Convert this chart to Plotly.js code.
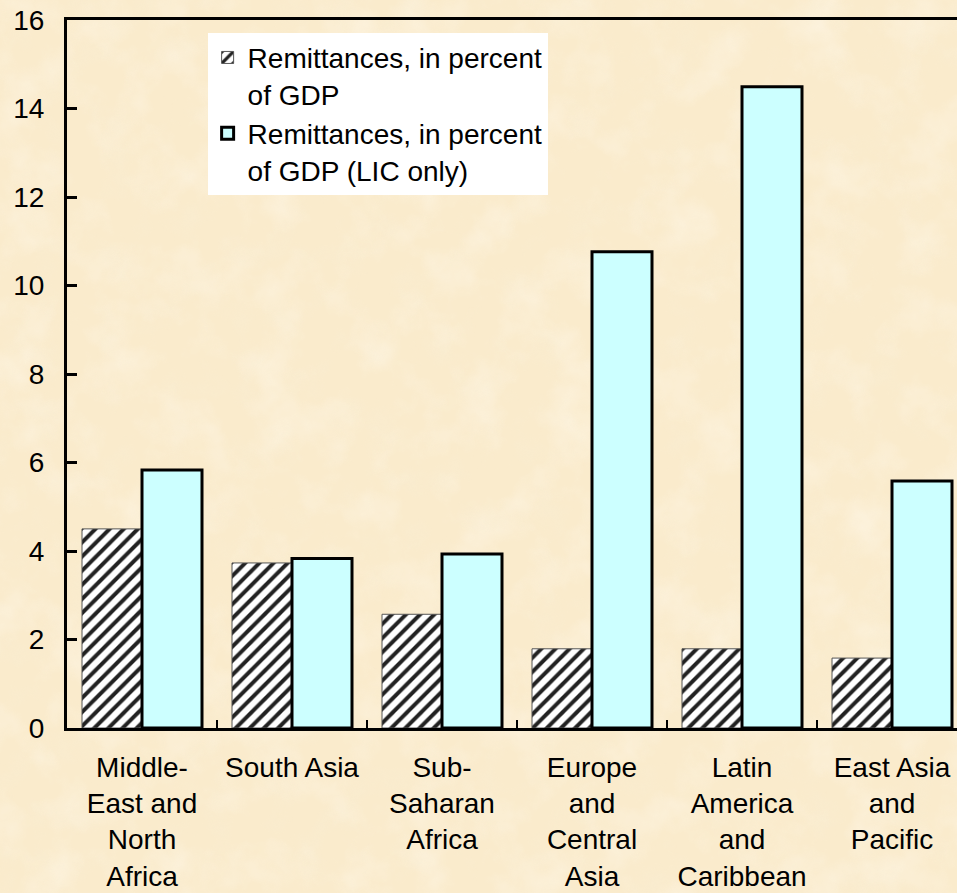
<!DOCTYPE html>
<html>
<head>
<meta charset="utf-8">
<script src="https://cdn.plot.ly/plotly-3.0.1.min.js"></script>
<style>
  html, body { margin: 0; padding: 0; width: 957px; height: 893px; overflow: hidden; background: #FAEBCD; }
  #bg { position: absolute; left: 0; top: 0; z-index: 0; }
  #chart { position: absolute; left: 0; top: 0; width: 957px; height: 893px; z-index: 1; }
</style>
</head>
<body>
<svg id="bg" width="957" height="893" xmlns="http://www.w3.org/2000/svg">
  <filter id="light" x="0" y="0" width="100%" height="100%">
    <feTurbulence type="fractalNoise" baseFrequency="0.02" numOctaves="4" seed="7"/>
    <feColorMatrix values="0 0 0 0 1  0 0 0 0 0.96  0 0 0 0 0.88  2.0 0 0 0 -0.9"/>
  </filter>
  <filter id="dark" x="0" y="0" width="100%" height="100%">
    <feTurbulence type="fractalNoise" baseFrequency="0.03" numOctaves="3" seed="19"/>
    <feColorMatrix values="0 0 0 0 0.94  0 0 0 0 0.86  0 0 0 0 0.68  0 2.0 0 0 -1.0"/>
  </filter>
  <rect width="957" height="893" fill="#FAEBCC"/>
  <rect width="957" height="893" filter="url(#light)" opacity="0.45"/>
  <rect width="957" height="893" filter="url(#dark)" opacity="0.35"/>
</svg>
<div id="chart"></div>
<script>
// ---- data ----
const categories = ["Middle-East and North Africa", "South Asia", "Sub-Saharan Africa",
                    "Europe and Central Asia", "Latin America and Caribbean", "East Asia and Pacific"];
const tickLabels = ["Middle-<br>East and<br>North<br>Africa", "South Asia", "Sub-<br>Saharan<br>Africa",
                    "Europe<br>and<br>Central<br>Asia", "Latin<br>America<br>and<br>Caribbean", "East Asia<br>and<br>Pacific"];
const seriesNames = ["Remittances, in percent<br>of GDP", "Remittances, in percent<br>of GDP (LIC only)"];
const remitGDP = [4.50, 3.73, 2.57, 1.79, 1.79, 1.58];
const remitGDPLIC = [5.83, 3.83, 3.93, 10.76, 14.49, 5.58];
const yTicks = [0, 2, 4, 6, 8, 10, 12, 14, 16];

const FONT = "Arial, 'Liberation Sans', sans-serif";

const traces = [
  {
    type: "bar", name: seriesNames[0], x: categories, y: remitGDP,
    marker: {
      color: "#ffffff",
      pattern: { shape: "/", fgcolor: "#222222", bgcolor: "#ffffff", size: 10, solidity: 0.4 },
      line: { color: "#555555", width: 1 }
    },
    hoverinfo: "skip"
  },
  {
    type: "bar", name: seriesNames[1], x: categories, y: remitGDPLIC,
    marker: { color: "#CCFFFF", line: { color: "#000000", width: 3 } },
    hoverinfo: "skip"
  }
];

const layout = {
  width: 957, height: 893,
  margin: { l: 67, r: 0, t: 20, b: 165, pad: 0 },
  paper_bgcolor: "rgba(0,0,0,0)",
  plot_bgcolor: "rgba(0,0,0,0)",
  font: { family: FONT, size: 28, color: "#000000" },
  barmode: "group", bargap: 0.2, bargroupgap: 0,
  showlegend: true,
  legend: {
    x: 0.158, y: 0.982, xanchor: "left", yanchor: "top",
    bgcolor: "#ffffff", borderwidth: 0,
    font: { family: FONT, size: 28, color: "#000000" },
    valign: "top", traceorder: "normal"
  },
  xaxis: {
    type: "category", range: [-0.5, 5.4333], autorange: false,
    tickmode: "array", tickvals: categories, ticktext: tickLabels,
    tickson: "boundaries",
    ticks: "inside", ticklen: 8, tickwidth: 2, tickcolor: "#000000",
    showline: true, linecolor: "#000000", linewidth: 3, mirror: true,
    showgrid: false, zeroline: false,
    tickfont: { family: FONT, size: 28, color: "#000000" },
    ticklabelstandoff: 12,
    automargin: false, fixedrange: true
  },
  yaxis: {
    range: [0, 16], autorange: false,
    tickmode: "array", tickvals: yTicks, ticktext: yTicks.map(String),
    ticks: "inside", ticklen: 10, tickwidth: 3, tickcolor: "#000000",
    showline: true, linecolor: "#000000", linewidth: 3,
    showgrid: false, zeroline: false,
    tickfont: { family: FONT, size: 28, color: "#000000" },
    ticklabelstandoff: 14,
    automargin: false, fixedrange: true
  }
};

Plotly.newPlot("chart", traces, layout, { displayModeBar: false, staticPlot: true });
</script>
</body>
</html>
